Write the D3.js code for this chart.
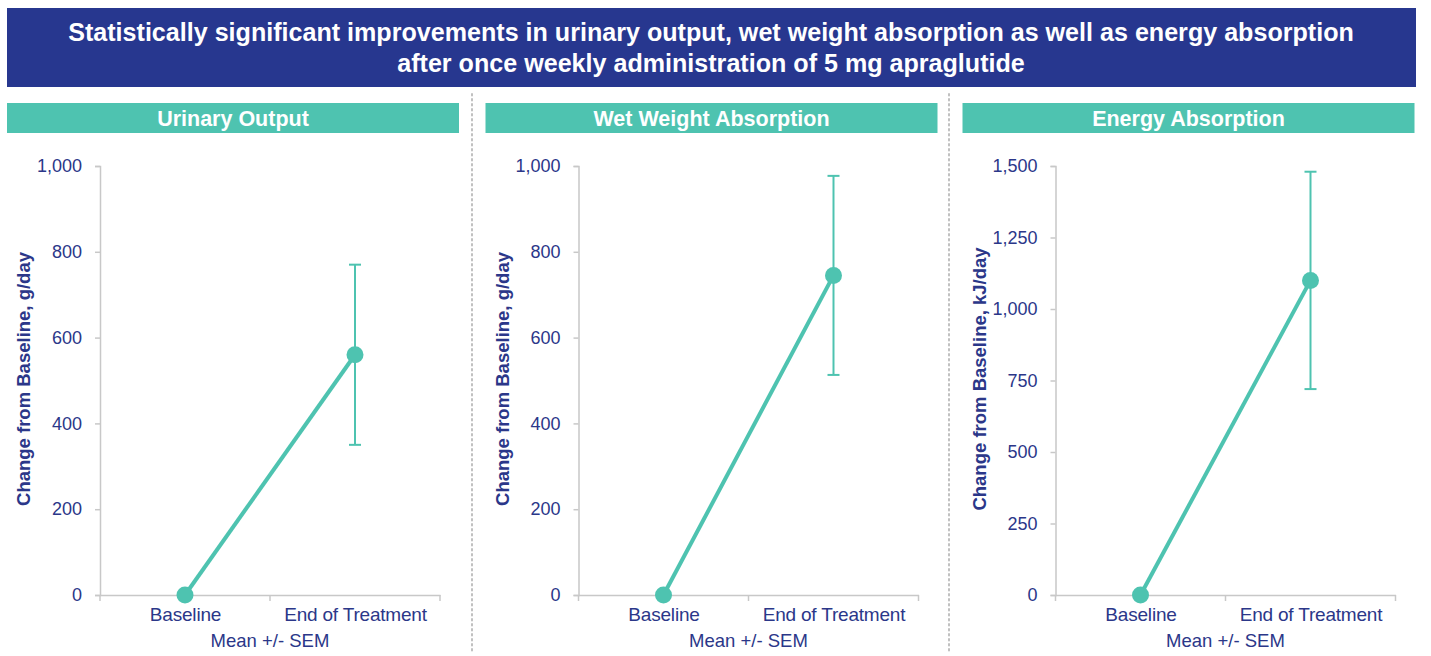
<!DOCTYPE html>
<html>
<head>
<meta charset="utf-8">
<script src="https://cdn.jsdelivr.net/npm/d3@7"></script>
<style>
    body { margin: 0; background: #fff; font-family: "Liberation Sans", Arial, sans-serif; }
    svg text { font-family: "Liberation Sans", Arial, sans-serif; }
</style>
</head>
<body>
<svg id="chart" width="1431" height="656"></svg>
<script>
// Chart data
const titleLines = [
    'Statistically significant improvements in urinary output, wet weight absorption as well as energy absorption',
    'after once weekly administration of 5 mg apraglutide'
];
const categories = ['Baseline', 'End of Treatment'];
const panelTitles = ['Urinary Output', 'Wet Weight Absorption', 'Energy Absorption'];
const yLabels = ['Change from Baseline, g/day', 'Change from Baseline, g/day', 'Change from Baseline, kJ/day'];
const xLabel = 'Mean +/- SEM';

const urinaryMean = [0, 560];
const urinarySem = [0, 210];
const wetWeightMean = [0, 745];
const wetWeightSem = [0, 232];
const energyMean = [0, 1100];
const energySem = [0, 380];

const yMax = [1000, 1000, 1500];
const yTicks = [
    [0, 200, 400, 600, 800, 1000],
    [0, 200, 400, 600, 800, 1000],
    [0, 250, 500, 750, 1000, 1250, 1500]
];

const means = [urinaryMean, wetWeightMean, energyMean];
const sems = [urinarySem, wetWeightSem, energySem];

// Colours
const navy = '#27378f';
const teal = '#4ec3b0';
const axisGrey = '#c8c8c8';
const textBlue = '#2b3789';

const svg = d3.select('#chart');

// Title banner
svg.append('rect')
    .attr('x', 7).attr('y', 8)
    .attr('width', 1409).attr('height', 79)
    .attr('fill', navy);

svg.append('text')
    .attr('x', 711).attr('y', 40.5)
    .attr('text-anchor', 'middle')
    .attr('fill', '#fff')
    .style('font-size', '25.1px')
    .style('font-weight', 'bold')
    .selectAll('tspan')
    .data(titleLines)
    .join('tspan')
    .attr('x', 711)
    .attr('dy', (d, i) => i === 0 ? 0 : 31)
    .text(d => d);

// Dotted separators
[472, 949].forEach(x => {
    svg.append('line')
        .attr('x1', x).attr('x2', x)
        .attr('y1', 94).attr('y2', 652)
        .attr('stroke', '#c0c0c0')
        .attr('stroke-width', 2)
        .attr('stroke-dasharray', '1.5,3.5')
        .attr('stroke-linecap', 'round');
});

const panelOffsets = [0, 478.5, 955.5];

panelOffsets.forEach((off, i) => {
    const g = svg.append('g').attr('transform', `translate(${off},0)`);

    // Panel header
    g.append('rect')
        .attr('x', 7).attr('y', 103)
        .attr('width', 452).attr('height', 30)
        .attr('fill', teal);

    g.append('text')
        .attr('x', 233).attr('y', 126)
        .attr('text-anchor', 'middle')
        .attr('fill', '#fff')
        .style('font-size', '21.5px')
        .style('font-weight', 'bold')
        .text(panelTitles[i]);

    const x = d3.scalePoint()
        .domain(categories)
        .range([100, 440])
        .padding(0.5);

    const y = d3.scaleLinear()
        .domain([0, yMax[i]])
        .range([595, 166]);

    // Y axis
    const yAxis = g.append('g')
        .attr('transform', 'translate(100,0)')
        .call(d3.axisLeft(y).tickValues(yTicks[i]).tickFormat(d3.format(',')).tickSize(5).tickPadding(13));
    yAxis.select('.domain').attr('stroke', axisGrey).attr('stroke-width', 1.5);
    yAxis.selectAll('.tick line').attr('stroke', axisGrey).attr('stroke-width', 1.5);
    yAxis.selectAll('.tick text')
        .attr('fill', textBlue)
        .style('font-size', '18px');

    // X axis
    const xAxis = g.append('g')
        .attr('transform', 'translate(0,595)')
        .call(d3.axisBottom(x).tickSize(0).tickPadding(12.5));
    xAxis.select('.domain').attr('stroke', axisGrey).attr('stroke-width', 1.5);
    xAxis.selectAll('.tick text')
        .attr('fill', textBlue)
        .style('font-size', '19px')
        .style('letter-spacing', '-0.2px');

    // Category divider ticks on x axis
    const step = x.step();
    const dividers = [x(categories[0]) - step / 2, x(categories[0]) + step / 2, x(categories[1]) + step / 2];
    g.selectAll('.xdiv')
        .data(dividers)
        .join('line')
        .attr('x1', d => d).attr('x2', d => d)
        .attr('y1', 595).attr('y2', 601)
        .attr('stroke', axisGrey)
        .attr('stroke-width', 1.5);

    // X axis title
    g.append('text')
        .attr('x', 270).attr('y', 647)
        .attr('text-anchor', 'middle')
        .attr('fill', textBlue)
        .style('font-size', '18.5px')
        .text(xLabel);

    // Y axis title
    g.append('text')
        .attr('transform', `translate(30,379) rotate(-90)`)
        .attr('text-anchor', 'middle')
        .attr('fill', textBlue)
        .style('font-size', '18.5px')
        .style('font-weight', 'bold')
        .text(yLabels[i]);

    const pts = categories.map((c, k) => ({ cat: c, mean: means[i][k], sem: sems[i][k] }));

    // Error bars
    const bars = pts.filter(d => d.sem > 0);
    g.selectAll('.err')
        .data(bars)
        .join('line')
        .attr('x1', d => x(d.cat)).attr('x2', d => x(d.cat))
        .attr('y1', d => y(d.mean + d.sem)).attr('y2', d => y(d.mean - d.sem))
        .attr('stroke', teal).attr('stroke-width', 2);
    [1, -1].forEach(s => {
        g.selectAll(null)
            .data(bars)
            .join('line')
            .attr('x1', d => x(d.cat) - 6).attr('x2', d => x(d.cat) + 6)
            .attr('y1', d => y(d.mean + s * d.sem)).attr('y2', d => y(d.mean + s * d.sem))
            .attr('stroke', teal).attr('stroke-width', 2);
    });

    // Line
    g.append('path')
        .datum(pts)
        .attr('fill', 'none')
        .attr('stroke', teal)
        .attr('stroke-width', 4)
        .attr('d', d3.line().x(d => x(d.cat)).y(d => y(d.mean)));

    // Markers
    g.selectAll('.pt')
        .data(pts)
        .join('circle')
        .attr('cx', d => x(d.cat))
        .attr('cy', d => y(d.mean))
        .attr('r', 8.5)
        .attr('fill', teal);
});
</script>
</body>
</html>
